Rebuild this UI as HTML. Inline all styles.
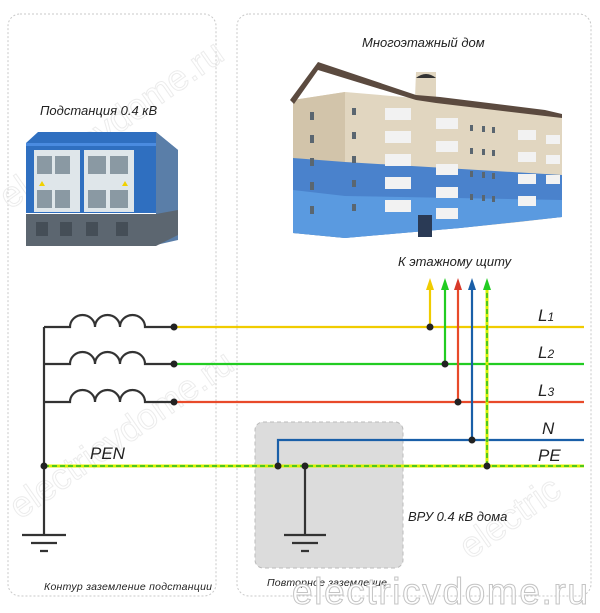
<!DOCTYPE html>
<html><head><meta charset="utf-8"><style>
html,body{margin:0;padding:0;background:#fff;width:600px;height:613px;overflow:hidden}
svg{display:block}
text{font-family:"Liberation Sans","DejaVu Sans",sans-serif;font-style:italic;fill:#222}
</style></head><body>
<svg width="600" height="613" viewBox="0 0 600 613" xmlns="http://www.w3.org/2000/svg">
<rect x="8" y="14" width="208" height="582" rx="12" fill="none" stroke="#c8c8c8" stroke-dasharray="2,2"/>
<rect x="237" y="14" width="354" height="582" rx="12" fill="none" stroke="#c8c8c8" stroke-dasharray="2,2"/>

<g font-size="36">
<text transform="translate(20,520) rotate(-35)" style="fill:none;stroke:#ececec;font-style:normal">electricvdome.ru</text>
<text transform="translate(10,210) rotate(-35)" style="fill:none;stroke:#ececec;font-style:normal">electricvdome.ru</text>
<text transform="translate(470,560) rotate(-35)" style="fill:none;stroke:#ececec;font-style:normal">electric</text>
</g>

<polygon points="26,143 38,132 156,132 178,150 178,213 26,213" fill="#2f6fc0"/>
<polygon points="156,132 178,150 178,240 156,245" fill="#5a7ea8"/>
<rect x="26" y="143" width="130" height="3" fill="#4a8be0"/>
<rect x="34" y="150" width="46" height="62" fill="#dfe6ea"/>
<rect x="84" y="150" width="50" height="62" fill="#dfe6ea"/>
<g fill="#8a99a3">
<rect x="37" y="156" width="15" height="18"/><rect x="55" y="156" width="15" height="18"/>
<rect x="37" y="190" width="15" height="18"/><rect x="55" y="190" width="15" height="18"/>
<rect x="88" y="156" width="18" height="18"/><rect x="110" y="156" width="18" height="18"/>
<rect x="88" y="190" width="18" height="18"/><rect x="110" y="190" width="18" height="18"/>
</g>
<polygon points="39,186 42,181 45,186" fill="#f1d100"/><polygon points="122,186 125,181 128,186" fill="#f1d100"/>
<polygon points="26,214 156,214 178,210 178,235 156,246 26,246" fill="#5c6670"/>
<g fill="#454e57"><rect x="36" y="222" width="12" height="14"/><rect x="60" y="222" width="12" height="14"/><rect x="86" y="222" width="12" height="14"/><rect x="116" y="222" width="12" height="14"/></g>
<text x="40" y="115" font-size="13">Подстанция 0.4 кВ</text>

<text x="362" y="47" font-size="13">Многоэтажный дом</text>
<polygon points="293,100 345,92 415,98 416,72 436,72 436,100 545,115 562,118 562,217 520,222 460,228 345,238 293,233" fill="#e1d6c0"/>
<polygon points="293,100 345,92 345,238 293,233" fill="#d2c4aa"/>
<polygon points="290,100 318,62 416,95 440,97 545,110 562,114 562,118 545,116 436,103 416,100 318,70 294,104" fill="#5b4a3f"/>
<polygon points="293,158 345,162 562,175 562,217 460,228 345,238 293,233" fill="#4a82cc"/>
<polygon points="293,190 345,196 562,200 562,217 460,228 345,238 293,233" fill="#5a9ae0"/>
<path d="M416,78 q10,-8 20,0 z" fill="#333"/>
<g fill="#5a6670">
<rect x="310" y="112" width="4" height="8"/><rect x="310" y="135" width="4" height="8"/><rect x="310" y="158" width="4" height="8"/><rect x="310" y="182" width="4" height="8"/><rect x="310" y="206" width="4" height="8"/>
<rect x="352" y="108" width="4" height="7"/><rect x="352" y="132" width="4" height="7"/><rect x="352" y="156" width="4" height="7"/><rect x="352" y="180" width="4" height="7"/><rect x="352" y="204" width="4" height="7"/>
<rect x="470" y="125" width="3" height="6"/><rect x="482" y="126" width="3" height="6"/><rect x="492" y="127" width="3" height="6"/>
<rect x="470" y="148" width="3" height="6"/><rect x="482" y="149" width="3" height="6"/><rect x="492" y="150" width="3" height="6"/>
<rect x="470" y="171" width="3" height="6"/><rect x="482" y="172" width="3" height="6"/><rect x="492" y="173" width="3" height="6"/>
<rect x="470" y="194" width="3" height="6"/><rect x="482" y="195" width="3" height="6"/><rect x="492" y="196" width="3" height="6"/>
</g>
<g fill="#f2f2f2">
<rect x="385" y="108" width="26" height="12"/><rect x="385" y="131" width="26" height="12"/><rect x="385" y="154" width="26" height="12"/><rect x="385" y="177" width="26" height="12"/><rect x="385" y="200" width="26" height="12"/>
<rect x="436" y="118" width="22" height="11"/><rect x="436" y="141" width="22" height="11"/><rect x="436" y="164" width="22" height="11"/><rect x="436" y="187" width="22" height="11"/><rect x="436" y="208" width="22" height="11"/>
<rect x="518" y="130" width="18" height="10"/><rect x="518" y="152" width="18" height="10"/><rect x="518" y="174" width="18" height="10"/><rect x="518" y="196" width="18" height="10"/>
<rect x="546" y="135" width="14" height="9"/><rect x="546" y="155" width="14" height="9"/><rect x="546" y="175" width="14" height="9"/>
</g>
<rect x="418" y="215" width="14" height="22" fill="#2a3a55"/>
<text x="398" y="266" font-size="13">К этажному щиту</text>

<rect x="255" y="422" width="148" height="146" rx="8" fill="#dcdcdc" stroke="#bbb" stroke-dasharray="4,3"/>

<g fill="none" stroke="#333" stroke-width="2.2">
<path d="M44,327 V535"/>
<path d="M44,327 H70 a12.5,12 0 0 1 25,0 a12.5,12 0 0 1 25,0 a12.5,12 0 0 1 25,0 H174"/>
<path d="M44,364 H70 a12.5,12 0 0 1 25,0 a12.5,12 0 0 1 25,0 a12.5,12 0 0 1 25,0 H174"/>
<path d="M44,402 H70 a12.5,12 0 0 1 25,0 a12.5,12 0 0 1 25,0 a12.5,12 0 0 1 25,0 H174"/>
<path d="M22,535 H66 M31,543 H57 M40,551 H48"/>
<path d="M305,466 V535 M284,535 H326 M292,543 H318 M301,551 H309"/>
</g>

<line x1="174" y1="327" x2="584" y2="327" stroke="#f0cc00" stroke-width="2.2"/>
<line x1="174" y1="364" x2="584" y2="364" stroke="#22cc22" stroke-width="2.2"/>
<line x1="174" y1="402" x2="584" y2="402" stroke="#e84a2a" stroke-width="2.2"/>
<polyline points="278,466 278,440 584,440" fill="none" stroke="#1a5fa8" stroke-width="2.2"/>
<line x1="44" y1="466" x2="584" y2="466" stroke="#d8f000" stroke-width="3"/>
<line x1="44" y1="466" x2="584" y2="466" stroke="#22bb22" stroke-width="1.5" stroke-dasharray="5,3"/>

<line x1="430" y1="327" x2="430" y2="288" stroke="#f0cc00" stroke-width="2.2"/>
<polygon points="426,290 430,278 434,290" fill="#f0cc00"/>
<line x1="445" y1="364" x2="445" y2="288" stroke="#22cc22" stroke-width="2.2"/>
<polygon points="441,290 445,278 449,290" fill="#22cc22"/>
<line x1="458" y1="402" x2="458" y2="288" stroke="#e84a2a" stroke-width="2.2"/>
<polygon points="454,290 458,278 462,290" fill="#d83a2a"/>
<line x1="472" y1="440" x2="472" y2="288" stroke="#1a5fa8" stroke-width="2.2"/>
<polygon points="468,290 472,278 476,290" fill="#1a5fa8"/>
<line x1="487" y1="466" x2="487" y2="288" stroke="#d8f000" stroke-width="3"/>
<line x1="487" y1="466" x2="487" y2="288" stroke="#22bb22" stroke-width="1.5" stroke-dasharray="5,3"/>
<polygon points="483,290 487,278 491,290" fill="#22cc22"/>

<g fill="#222">
<circle cx="174" cy="327" r="3.5"/><circle cx="174" cy="364" r="3.5"/><circle cx="174" cy="402" r="3.5"/>
<circle cx="44" cy="466" r="3.5"/><circle cx="278" cy="466" r="3.5"/><circle cx="305" cy="466" r="3.5"/>
<circle cx="430" cy="327" r="3.5"/><circle cx="445" cy="364" r="3.5"/><circle cx="458" cy="402" r="3.5"/>
<circle cx="472" cy="440" r="3.5"/><circle cx="487" cy="466" r="3.5"/>
</g>

<text x="538" y="321" font-size="17">L<tspan font-size="12">1</tspan></text>
<text x="538" y="358" font-size="17">L<tspan font-size="12">2</tspan></text>
<text x="538" y="396" font-size="17">L<tspan font-size="12">3</tspan></text>
<text x="542" y="434" font-size="17">N</text>
<text x="538" y="461" font-size="17">PE</text>
<text x="90" y="459" font-size="17">PEN</text>
<text x="408" y="521" font-size="13">ВРУ 0.4 кВ дома</text>
<text x="44" y="590" font-size="10.5" textLength="168">Контур заземление подстанции</text>
<text x="267" y="586" font-size="10.5" textLength="120">Повторное заземление</text>
<text x="292" y="604" font-size="37" textLength="296" style="fill:#fff;stroke:#c4c4c4;stroke-width:1;font-style:normal">electricvdome.ru</text>
</svg>
</body></html>
